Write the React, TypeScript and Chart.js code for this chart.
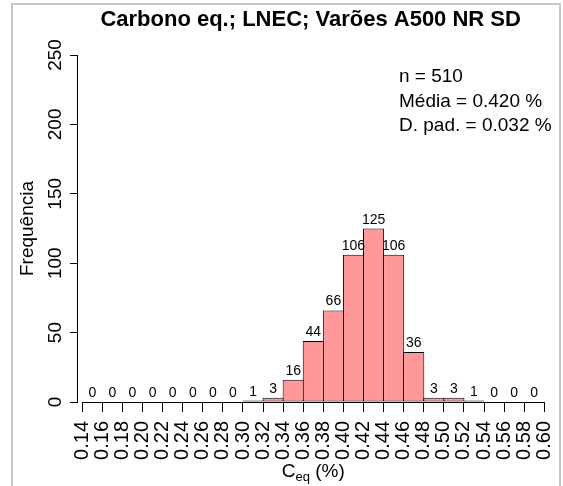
import React, { useEffect, useRef } from "react";
import { Chart, registerables } from "chart.js";

Chart.register(...registerables);

const FONT = '"Liberation Sans", Arial, sans-serif';

// Histogram bin edges (x tick labels) and counts per bin
const binEdges = [
  0.14, 0.16, 0.18, 0.2, 0.22, 0.24, 0.26, 0.28, 0.3, 0.32, 0.34, 0.36,
  0.38, 0.4, 0.42, 0.44, 0.46, 0.48, 0.5, 0.52, 0.54, 0.56, 0.58, 0.6,
];
const counts = [
  0, 0, 0, 0, 0, 0, 0, 0, 1, 3, 16, 44, 66, 106, 125, 106, 36, 3, 3, 1, 0, 0, 0,
];
const yTicks = [0, 50, 100, 150, 200, 250];

const titleText = "Carbono eq.; LNEC; Varões A500 NR SD";
const legendLines = ["n = 510", "Média = 0.420 %", "D. pad. = 0.032 %"];
const yTitle = "Frequência";
const xTitleMain = "C";
const xTitleSub = "eq";
const xTitleRest = " (%)";

const textPlugin = {
  id: "rTexts",
  afterDatasetsDraw(chart: any) {
    const { ctx, scales, chartArea } = chart;
    const x = scales.x;
    const y = scales.y;
    ctx.save();
    ctx.fillStyle = "#000";
    ctx.strokeStyle = "#000";
    ctx.lineWidth = 1;

    // x axis line from first to last edge
    const yb = Math.round(chartArea.bottom) + 0.5;
    ctx.beginPath();
    ctx.moveTo(x.getPixelForValue(binEdges[0]), yb);
    ctx.lineTo(x.getPixelForValue(binEdges[binEdges.length - 1]), yb);
    ctx.stroke();

    // count labels above bars
    ctx.font = `14px ${FONT}`;
    ctx.textAlign = "center";
    ctx.textBaseline = "alphabetic";
    counts.forEach((c, i) => {
      const cx = x.getPixelForValue((binEdges[i] + binEdges[i + 1]) / 2);
      const ty = y.getPixelForValue(c) - 5;
      ctx.fillText(String(c), cx, ty);
    });

    // y tick labels (parallel to axis)
    ctx.font = `19px ${FONT}`;
    yTicks.forEach((v) => {
      ctx.save();
      ctx.translate(56, y.getPixelForValue(v));
      ctx.rotate(-Math.PI / 2);
      ctx.textAlign = "center";
      ctx.textBaseline = "middle";
      ctx.fillText(String(v), 0, 0);
      ctx.restore();
    });

    // y title
    ctx.save();
    ctx.font = `19px ${FONT}`;
    ctx.translate(28, (chartArea.top + chartArea.bottom) / 2);
    ctx.rotate(-Math.PI / 2);
    ctx.textAlign = "center";
    ctx.textBaseline = "middle";
    ctx.fillText(yTitle, 0, 0);
    ctx.restore();

    // x title with subscript
    const cxMid =
      (x.getPixelForValue(binEdges[0]) +
        x.getPixelForValue(binEdges[binEdges.length - 1])) /
      2;
    ctx.textAlign = "left";
    ctx.textBaseline = "alphabetic";
    ctx.font = `19px ${FONT}`;
    const w1 = ctx.measureText(xTitleMain).width;
    const w3 = ctx.measureText(xTitleRest).width;
    ctx.font = `13px ${FONT}`;
    const w2 = ctx.measureText(xTitleSub).width;
    const total = w1 + w2 + w3;
    let sx = cxMid - total / 2;
    const base = 477;
    ctx.font = `19px ${FONT}`;
    ctx.fillText(xTitleMain, sx, base);
    sx += w1;
    ctx.font = `13px ${FONT}`;
    ctx.fillText(xTitleSub, sx, base + 4);
    sx += w2;
    ctx.font = `19px ${FONT}`;
    ctx.fillText(xTitleRest, sx, base);

    // legend text
    ctx.font = `19px ${FONT}`;
    legendLines.forEach((t, i) => {
      ctx.fillText(t, 399, 82 + i * 24.5);
    });

    ctx.restore();
  },
};

export default function App() {
  const ref = useRef<HTMLCanvasElement | null>(null);

  useEffect(() => {
    if (!ref.current) return;
    const data = counts.map((c, i) => ({
      x: (binEdges[i] + binEdges[i + 1]) / 2,
      y: c,
    }));
    const xMin = binEdges[0] - (5.3 / 462) * (binEdges[binEdges.length - 1] - binEdges[0]);
    const chart = new Chart(ref.current, {
      type: "bar",
      data: {
        datasets: [
          {
            data: data as any,
            backgroundColor: "rgb(255,153,153)",
            borderColor: "#000",
            borderWidth: 1,
            borderSkipped: false,
            barPercentage: 1.05,
            categoryPercentage: 1,
            grouped: false,
          } as any,
        ],
      },
      options: {
        animation: false,
        responsive: false,
        maintainAspectRatio: false,
        layout: { padding: { left: 0, right: 18.7, top: 0, bottom: 0 } },
        plugins: {
          legend: { display: false },
          tooltip: { enabled: false },
          title: {
            display: true,
            text: titleText,
            fullSize: false,
            color: "#000",
            font: { family: FONT, size: 22, weight: "bold", lineHeight: 1.2 },
            padding: { top: 7, bottom: 21.6 },
          },
        },
        scales: {
          x: {
            type: "linear",
            offset: false,
            min: xMin,
            max: binEdges[binEdges.length - 1],
            afterBuildTicks: (scale: any) => {
              scale.ticks = binEdges.map((v) => ({ value: v }));
            },
            afterFit: (scale: any) => {
              scale.height = 84;
              scale.paddingLeft = 0;
              scale.paddingRight = 0;
            },
            ticks: {
              autoSkip: false,
              minRotation: 90,
              maxRotation: 90,
              padding: 9,
              color: "#000",
              font: { family: FONT, size: 20 },
              callback: (v: any) => Number(v).toFixed(2),
            },
            grid: {
              display: true,
              offset: false,
              drawOnChartArea: false,
              drawTicks: true,
              tickLength: 10,
              color: "#000",
              lineWidth: 1,
            },
            border: { display: false },
          },
          y: {
            type: "linear",
            min: yTicks[0],
            max: yTicks[yTicks.length - 1],
            afterBuildTicks: (scale: any) => {
              scale.ticks = yTicks.map((v) => ({ value: v }));
            },
            afterFit: (scale: any) => {
              scale.width = 77;
              scale.paddingTop = 0;
              scale.paddingBottom = 0;
            },
            ticks: { display: false },
            grid: {
              display: true,
              drawOnChartArea: false,
              drawTicks: true,
              tickLength: 7,
              color: "#000",
              lineWidth: 1,
            },
            border: { display: true, color: "#000", width: 1 },
          },
        },
      },
      plugins: [textPlugin],
    });
    return () => chart.destroy();
  }, []);

  return (
    <div style={{ position: "absolute", left: 0, top: 0, width: 563, height: 486, background: "#fff", overflow: "hidden" }}>
      <div
        style={{
          position: "absolute",
          left: 11,
          top: 3,
          width: 546,
          height: 500,
          border: "2px solid rgb(200,200,200)",
          borderBottom: "none",
        }}
      />
      <canvas ref={ref} width={563} height={486} style={{ position: "absolute", left: 0, top: 0 }} />
    </div>
  );
}
